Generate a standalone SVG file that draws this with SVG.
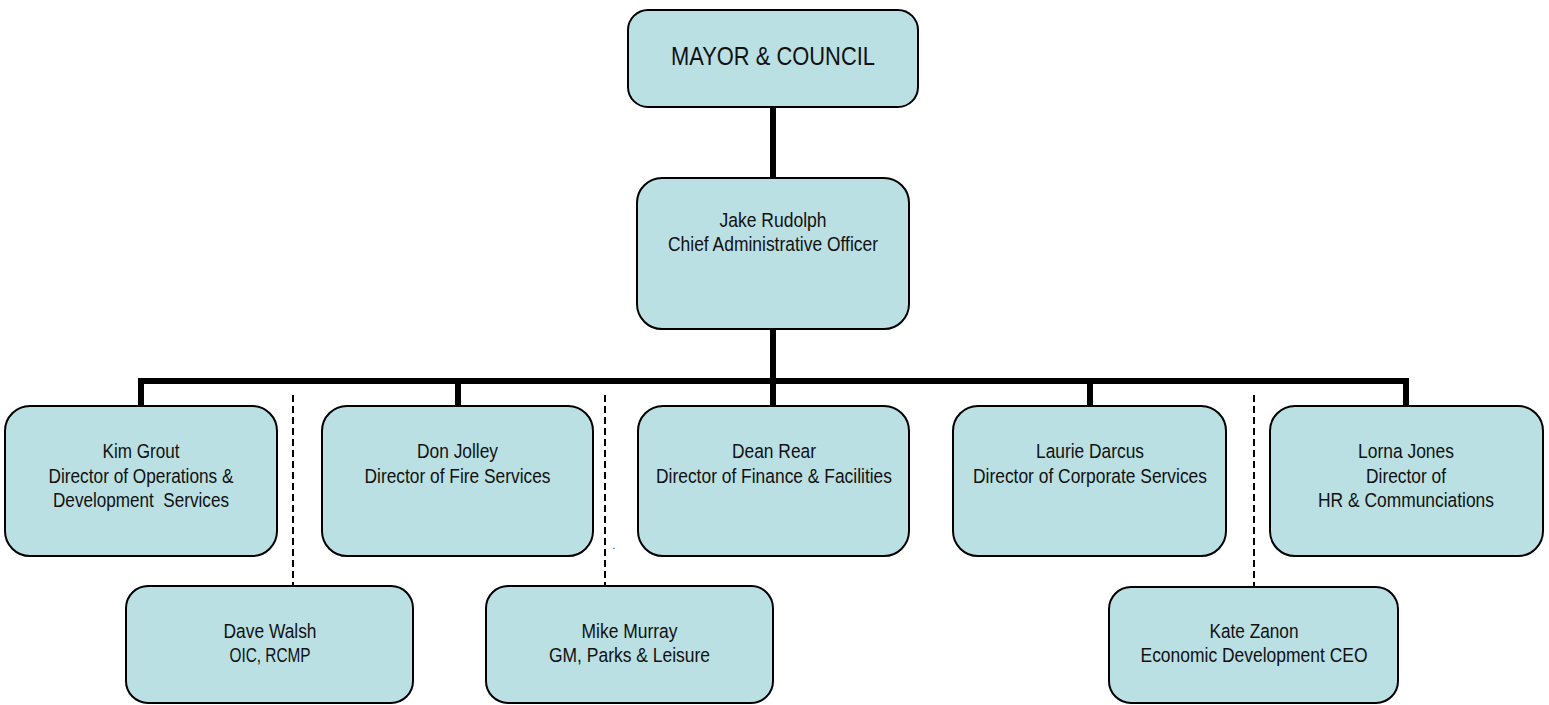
<svg xmlns="http://www.w3.org/2000/svg" width="1549" height="705" viewBox="0 0 1549 705">
<style>
.box{fill:#BAE0E3;stroke:#000;stroke-width:2}
.t{font-family:"Liberation Sans Narrow","Liberation Sans",Arial,sans-serif;font-size:20.5px;fill:#111;text-anchor:middle;white-space:pre}
.big{font-size:25.5px}
.solid{fill:none;stroke:#000;stroke-width:6;stroke-linejoin:miter;stroke-linecap:butt}
.dash{fill:none;stroke:#000;stroke-width:2;stroke-dasharray:7 4}
</style>
<rect width="1549" height="705" fill="#fff"/>
<g id="connectors">
<path class="solid" d="M773,107V178M773,329V406M141,406V381H1406V406M458,381V406M1090,381V406"/>
<path class="dash" d="M293,395V586M605,395V586M1254,395V587"/>
</g>
<g id="mayor">
<rect class="box" x="628" y="10" width="290" height="97" rx="20"/>
<text class="t big" x="773" y="65" textLength="204" lengthAdjust="spacingAndGlyphs">MAYOR &amp; COUNCIL</text>
</g>
<g id="cao">
<rect class="box" x="637" y="178" width="272" height="151" rx="25"/>
<text class="t" x="773" y="227" textLength="107" lengthAdjust="spacingAndGlyphs">Jake Rudolph</text>
<text class="t" x="773" y="251" textLength="210" lengthAdjust="spacingAndGlyphs">Chief Administrative Officer</text>
</g>
<g id="kim">
<rect class="box" x="5" y="406" width="272" height="150" rx="25"/>
<text class="t" x="141" y="458" textLength="77" lengthAdjust="spacingAndGlyphs">Kim Grout</text>
<text class="t" x="141" y="482.5" textLength="185" lengthAdjust="spacingAndGlyphs">Director of Operations &amp;</text>
<text class="t" x="141" y="507" textLength="176" lengthAdjust="spacingAndGlyphs">Development  Services</text>
</g>
<g id="don">
<rect class="box" x="322" y="406" width="271" height="150" rx="25"/>
<text class="t" x="457.5" y="458" textLength="81" lengthAdjust="spacingAndGlyphs">Don Jolley</text>
<text class="t" x="457.5" y="482.5" textLength="186" lengthAdjust="spacingAndGlyphs">Director of Fire Services</text>
</g>
<g id="dean">
<rect class="box" x="638" y="406" width="271" height="150" rx="25"/>
<text class="t" x="774" y="458" textLength="84" lengthAdjust="spacingAndGlyphs">Dean Rear</text>
<text class="t" x="774" y="482.5" textLength="236" lengthAdjust="spacingAndGlyphs">Director of Finance &amp; Facilities</text>
</g>
<g id="laurie">
<rect class="box" x="953" y="406" width="273" height="150" rx="25"/>
<text class="t" x="1090" y="458" textLength="108" lengthAdjust="spacingAndGlyphs">Laurie Darcus</text>
<text class="t" x="1090" y="482.5" textLength="234" lengthAdjust="spacingAndGlyphs">Director of Corporate Services</text>
</g>
<g id="lorna">
<rect class="box" x="1270" y="406" width="273" height="150" rx="25"/>
<text class="t" x="1406" y="458" textLength="96" lengthAdjust="spacingAndGlyphs">Lorna Jones</text>
<text class="t" x="1406" y="482.5" textLength="80" lengthAdjust="spacingAndGlyphs">Director of</text>
<text class="t" x="1406" y="507" textLength="176" lengthAdjust="spacingAndGlyphs">HR &amp; Communciations</text>
</g>
<g id="dave">
<rect class="box" x="126" y="586" width="287" height="117" rx="22"/>
<text class="t" x="270" y="638" textLength="93" lengthAdjust="spacingAndGlyphs">Dave Walsh</text>
<text class="t" x="270" y="662" textLength="81" lengthAdjust="spacingAndGlyphs">OIC, RCMP</text>
</g>
<g id="mike">
<rect class="box" x="486" y="586" width="287" height="117" rx="22"/>
<text class="t" x="629.5" y="638" textLength="96" lengthAdjust="spacingAndGlyphs">Mike Murray</text>
<text class="t" x="629.5" y="662" textLength="161" lengthAdjust="spacingAndGlyphs">GM, Parks &amp; Leisure</text>
</g>
<g id="kate">
<rect class="box" x="1109" y="587" width="289" height="116" rx="22"/>
<text class="t" x="1254" y="638" textLength="89" lengthAdjust="spacingAndGlyphs">Kate Zanon</text>
<text class="t" x="1254" y="662" textLength="227" lengthAdjust="spacingAndGlyphs">Economic Development CEO</text>
</g>
<text class="t" x="614" y="549" style="font-size:10px">.</text>
</svg>
